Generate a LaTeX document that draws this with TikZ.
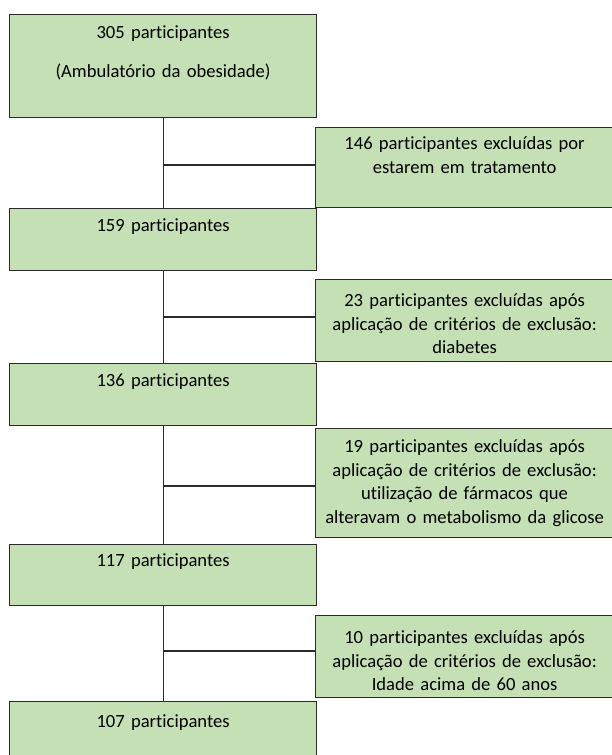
\documentclass[tikz,border=0pt]{standalone}
\usepackage{fontspec}
\setmainfont{Carlito}[Ligatures=NoCommon]
\usepackage{tikz}
\usetikzlibrary{positioning}
\definecolor{cfill}{HTML}{C5E0B4}
\definecolor{cline}{HTML}{2B2B2B}

\begin{document}
\begin{tikzpicture}[x=1pt, y=-1pt,
  stage/.style={draw=cline, fill=cfill, line width=1.2pt, inner sep=0pt,
                anchor=north west, text width=307pt, align=center,
                font=\fontsize{18.6}{23.5}\selectfont},
  excl/.style={stage, text width=298pt},
  link/.style={draw=cline, line width=1.2pt}
]
\useasboundingbox (0,0) rectangle (611,755);

%% Participants
\node[stage, text height=24pt, text depth=79pt] (p305) at (9,14)
  {305 participantes\\[15.5pt](Ambulatório da obesidade)};
\node[stage, text height=23pt, text depth=39pt] (p159) at (9,208) {159 participantes};
\node[stage, text height=23pt, text depth=39pt] (p136) at (9,363) {136 participantes};
\node[stage, text height=22pt, text depth=39pt] (p117) at (9,544) {117 participantes};
\node[stage, text height=26pt, text depth=70pt] (p107) at (9,701) {107 participantes};

%% Exclusions
\node[excl, text height=22pt, text depth=58pt] (x146) at (315,127)
  {146 participantes excluídas por\\estarem em tratamento};
\node[excl, text height=27pt, text depth=55pt] (x23) at (315,279)
  {23 participantes excluídas após\\aplicação de critérios de exclusão:\\diabetes};
\node[excl, text height=24pt, text depth=85pt] (x19) at (315,428)
  {19 participantes excluídas após\\aplicação de critérios de exclusão:\\utilização de fármacos que\\alteravam o metabolismo da glicose};
\node[excl, text height=28pt, text depth=54pt] (x10) at (315,615)
  {10 participantes excluídas após\\aplicação de critérios de exclusão:\\Idade acima de 60 anos};

%% Junctions
\coordinate (j146) at (162.5,165);
\coordinate (j23)  at (162.5,317);
\coordinate (j19)  at (162.5,486);
\coordinate (j10)  at (162.5,651);

%% Main flow
\draw[link] (p305.south) -- (p159.north);
\draw[link] (p159.south) -- (p136.north);
\draw[link] (p136.south) -- (p117.north);
\draw[link] (p117.south) -- (p107.north);

%% Branches
\draw[link] (j146) -- (j146 -| x146.west);
\draw[link] (j23)  -- (j23 -| x23.west);
\draw[link] (j19)  -- (j19 -| x19.west);
\draw[link] (j10)  -- (j10 -| x10.west);

\end{tikzpicture}
\end{document}
